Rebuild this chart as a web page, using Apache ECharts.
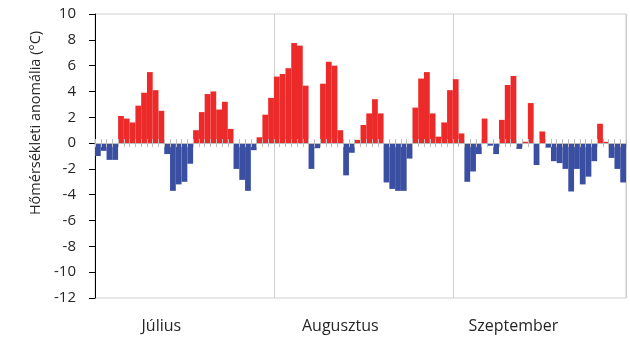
<!DOCTYPE html>
<html>
<head>
<meta charset="utf-8">
<script src="https://cdn.jsdelivr.net/npm/echarts@6/dist/echarts.min.js"></script>
<style>html,body{margin:0;padding:0;background:#fff}#c{width:630px;height:347px}</style>
</head>
<body>
<div id="c"></div>
<script>
const monthNames = ['Július', 'Augusztus', 'Szeptember'];
const julyValues = [-1.0,-0.6,-1.3,-1.3,2.1,1.9,1.6,2.9,3.9,5.5,4.1,2.5,-0.85,-3.7,-3.2,-3.0,-1.6,1.0,2.4,3.8,4.0,2.6,3.2,1.1,-2.0,-2.85,-3.7,-0.55,0.45,2.2,3.5];
const augustValues = [5.15,5.35,5.8,7.75,7.55,4.45,-2.0,-0.4,4.6,6.3,6.0,1.0,-2.5,-0.75,0.25,1.4,2.3,3.4,2.3,-3.05,-3.55,-3.7,-3.7,-1.2,2.75,5.0,5.5,2.3,0.5,1.6,4.1];
const septemberValues = [4.95,0.75,-3.0,-2.2,-0.85,1.9,-0.2,-0.85,1.8,4.5,5.2,-0.45,0.1,3.1,-1.7,0.9,-0.35,-1.4,-1.55,-2.0,-3.75,-2.0,-3.2,-2.6,-1.4,1.5,0.1,-1.15,-2.0,-3.05];
const yTicks = [-12,-10,-8,-6,-4,-2,0,2,4,6,8,10];

const monthSeries = [julyValues, augustValues, septemberValues];
const days = [];
const monthOfDay = [];
monthSeries.forEach((arr, m) => arr.forEach((v, i) => { days.push(monthNames[m] + ' ' + (i + 1)); monthOfDay.push(m); }));
const values = [].concat(julyValues, augustValues, septemberValues);
const monthStart = [0, julyValues.length, julyValues.length + augustValues.length];
const labelIdx = [11, 42, 72];

const FONT = 'Open Sans';
const chart = echarts.init(document.getElementById('c'), null, {renderer: 'canvas'});
chart.setOption({
  animation: false,
  grid: {left: 95, right: 4, top: 14, bottom: 49, show: true, borderColor: '#cfcfcf', borderWidth: 1},
  xAxis: [
    {type: 'category', data: days, z: 10, boundaryGap: true,
     axisLine: {onZero: true, onZeroAxisIndex: 0, lineStyle: {color: '#bdbdbd', width: 1}},
     axisTick: {show: true, interval: 0, length: 4, lineStyle: {color: '#bdbdbd'}},
     axisLabel: {show: false}, splitLine: {show: false}},
    {type: 'category', data: days, z: 10, position: 'bottom', boundaryGap: true,
     axisLine: {show: false, onZero: true, onZeroAxisIndex: 0},
     axisTick: {show: true, inside: true, interval: 0, length: 4, lineStyle: {color: '#bdbdbd'}},
     axisLabel: {show: false}, splitLine: {show: false}},
    {type: 'category', data: days, position: 'bottom', boundaryGap: true,
     axisLine: {show: false, onZero: false},
     axisTick: {show: false},
     axisLabel: {show: true, margin: 20, interval: (i) => labelIdx.includes(i),
       formatter: (v, i) => monthNames[monthOfDay[i]],
       fontFamily: FONT, fontSize: 16, color: '#262626'},
     splitLine: {show: true, interval: (i) => i === monthStart[1] || i === monthStart[2], lineStyle: {color: '#cfcfcf', width: 1}}}
  ],
  yAxis: {
    type: 'value', min: yTicks[0], max: yTicks[yTicks.length - 1], interval: 2,
    name: 'Hőmérsékleti anomália (°C)', nameLocation: 'middle', nameGap: 49,
    nameTextStyle: {fontFamily: FONT, fontSize: 14.5, color: '#262626', padding: [0, 0, 0, 66]},
    axisLine: {show: true, onZero: false, lineStyle: {color: '#000', width: 1}},
    axisTick: {show: true, length: 6, lineStyle: {color: '#000'}},
    axisLabel: {margin: 19, fontFamily: FONT, fontSize: 15, color: '#262626'},
    splitLine: {show: false}
  },
  series: [{
    type: 'bar', xAxisIndex: 0, data: values, barCategoryGap: '0%', barGap: '0%',
    itemStyle: {color: (p) => p.value >= 0 ? '#ED2A2A' : '#3A4FA2'}
  }]
});
</script>
</body>
</html>
